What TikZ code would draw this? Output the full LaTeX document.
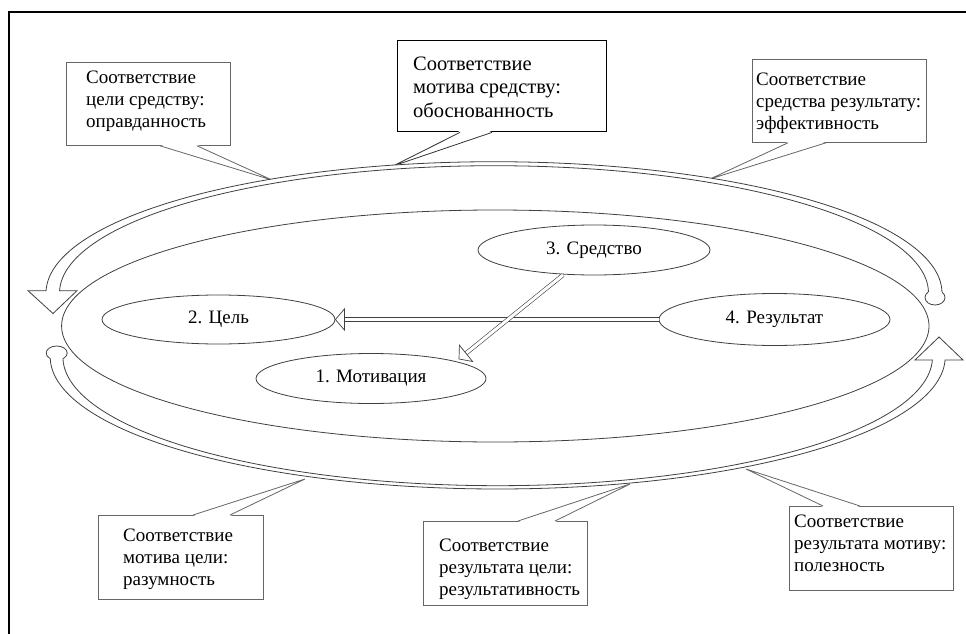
\documentclass[tikz,border=0pt]{standalone}
\usepackage{fontspec}
\setmainfont{Liberation Serif}
\usetikzlibrary{shapes.geometric,calc}
\begin{document}
\begin{tikzpicture}[x=1pt,y=-1pt,
  cbox/.style={draw=black!60, line width=0.8pt, fill=white, inner sep=0pt, anchor=north west},
  cboxb/.style={draw=black, line width=1.4pt, fill=white, inner sep=0pt, anchor=north west},
  ctext/.style={anchor=north west, inner sep=0pt, align=left, font=\fontsize{19}{22}\selectfont},
  ctextb/.style={anchor=north west, inner sep=0pt, align=left, font=\fontsize{20.5}{23.5}\selectfont},
  cline/.style={draw=black!60, line width=0.8pt},
  clineb/.style={draw=black!80, line width=0.8pt},
  ell/.style={ellipse, draw=black!75, line width=0.8pt, inner sep=0pt, font=\fontsize{19}{22}\selectfont},
  dbl/.style={draw=black!75, double=white, double distance=3pt, line width=0.6pt},
  headst/.style={draw=black!75, fill=white, line width=0.7pt, line join=miter},
  bandline/.style={draw=black!75, line width=0.8pt},
]
\useasboundingbox (0,0) rectangle (966,634);
\fill[white] (0,0) rectangle (966,634);
\draw[line width=2pt] (9,640) -- (9,12) -- (972,12);

% big ellipse
\node[ell, minimum width=867.4pt, minimum height=232pt] (big) at (495.3,326) {};

% callout 1
\node[cbox, minimum width=164pt, minimum height=83pt] (c1) at (66,62) {};
\coordinate (p1) at (272,180);
\fill[white] ($(c1.south west)+(94,-1)$) -- (p1) -- ($(c1.south west)+(131,-1)$) -- cycle;
\draw[cline] ($(c1.south west)+(94,0)$) -- (p1) -- ($(c1.south west)+(131,0)$);
\node[ctext] (t1) at (86,70.4) {Соответствие\\цели средству:\\оправданность};

% callout 2
\node[cboxb, minimum width=209pt, minimum height=91pt] (c2) at (397,40) {};
\coordinate (p2) at (393,166);
\fill[white] ($(c2.south west)+(63,-1.5)$) -- (p2) -- ($(c2.south west)+(95,-1.5)$) -- cycle;
\draw[clineb] ($(c2.south west)+(63,0)$) -- (p2) -- ($(c2.south west)+(95,0)$);
\node[ctextb] (t2) at (413,56.4) {Соответствие\\мотива средству:\\обоснованность};

% callout 3
\node[cbox, minimum width=174pt, minimum height=83pt] (c3) at (752,59) {};
\coordinate (p3) at (710,179);
\fill[white] ($(c3.south west)+(36,-1)$) -- (p3) -- ($(c3.south west)+(74,-1)$) -- cycle;
\draw[cline] ($(c3.south west)+(36,0)$) -- (p3) -- ($(c3.south west)+(74,0)$);
\node[ctext] (t3) at (756,72.4) {Соответствие\\средства результату:\\эффективность};

% callout 4
\node[cbox, minimum width=165pt, minimum height=84pt] (c4) at (98,515) {};
\coordinate (p4) at (305,479);
\fill[white] ($(c4.north west)+(95,1)$) -- (p4) -- ($(c4.north west)+(132,1)$) -- cycle;
\draw[cline] ($(c4.north west)+(95,0)$) -- (p4) -- ($(c4.north west)+(132,0)$);
\node[ctext] (t4) at (123,528.4) {Соответствие\\мотива цели:\\разумность};

% callout 5
\node[cbox, minimum width=164pt, minimum height=84pt] (c5) at (423,521) {};
\coordinate (p5) at (630,484);
\fill[white] ($(c5.north west)+(95,1)$) -- (p5) -- ($(c5.north west)+(132,1)$) -- cycle;
\draw[cline] ($(c5.north west)+(95,0)$) -- (p5) -- ($(c5.north west)+(132,0)$);
\node[ctext] (t5) at (439,538.4) {Соответствие\\результата цели:\\результативность};

% callout 6
\node[cbox, minimum width=164pt, minimum height=84pt] (c6) at (789,506) {};
\coordinate (p6) at (746,469);
\fill[white] ($(c6.north west)+(34,1)$) -- (p6) -- ($(c6.north west)+(71,1)$) -- cycle;
\draw[cline] ($(c6.north west)+(34,0)$) -- (p6) -- ($(c6.north west)+(71,0)$);
\node[ctext] (t6) at (794,514.4) {Соответствие\\результата мотиву:\\полезность};

% inner ellipses
\node[ell, minimum width=232pt, minimum height=50pt] (sred) at (594,250) {3. Средство};
\node[ell, minimum width=233pt, minimum height=49pt] (goal) at (218.5,319.5) {2. Цель};
\node[ell, minimum width=230pt, minimum height=50pt] (mot) at (371,378.5) {1. Мотивация};
\node[ell, minimum width=231pt, minimum height=52pt] (res) at (774.5,319.5) {4. Результат};

% connectors
\draw[dbl] (res.west) -- ($(goal.east)+(9,0)$);
\filldraw[headst] (goal.east) -- ++(9,-10.5) -- ++(0,21) -- cycle;

\coordinate (dS) at ($(sred.center)+(-31,25)$);
\coordinate (dT) at ($(mot.center)+(88,-19.5)$);
\coordinate (dB) at ($(dT)!9pt!(dS)$);
\draw[dbl] (dS) -- (dB);
\filldraw[headst] (dT) -- ($(dB)!10.5pt!90:(dT)$) -- ($(dB)!10.5pt!-90:(dT)$) -- cycle;

% top band
\filldraw[bandline, fill=white] (935,297.5) ellipse (10pt and 7.5pt);
\fill[white] (28,290.7) -- (53,313.5) -- (77,290.7)
  -- plot[domain=179:-2, samples=120] ({494+434.5*cos(\x)},{293-127.3*sin(\x)})
  -- plot[domain=-2:179, samples=120] ({494+448*cos(\x)},{293-131.3*sin(\x)}) -- cycle;
\draw[bandline] plot[domain=0.4:179, samples=120] ({494+434.5*cos(\x)},{293-127.3*sin(\x)})
  -- (77,290.7) -- (53,313.5) -- (28,290.7)
  -- plot[domain=179:0.4, samples=120] ({494+448*cos(\x)},{293-131.3*sin(\x)});

% bottom band
\filldraw[bandline, fill=white] (56.7,353) ellipse (10.5pt and 7pt);
\fill[white] plot[domain=181.7:1.3, samples=120] ({497.7+447.5*cos(\x)},{357+132*sin(\x)})
  -- (963,360) -- (939,337) -- (915,360)
  -- plot[domain=1.3:181.7, samples=120] ({497.7+434.8*cos(\x)},{357+128.7*sin(\x)}) -- cycle;
\draw[bandline] plot[domain=179.4:1.3, samples=120] ({497.7+447.5*cos(\x)},{357+132*sin(\x)})
  -- (963,360) -- (939,337) -- (915,360)
  -- plot[domain=1.3:179.4, samples=120] ({497.7+434.8*cos(\x)},{357+128.7*sin(\x)});
\end{tikzpicture}
\end{document}
